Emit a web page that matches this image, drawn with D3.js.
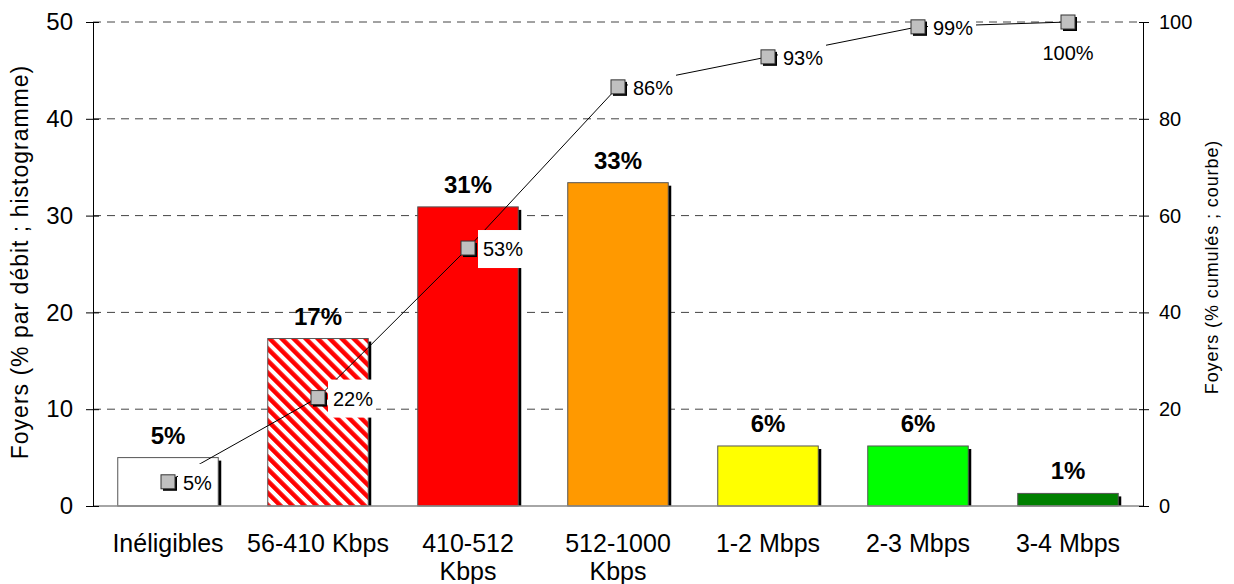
<!DOCTYPE html>
<html>
<head>
<meta charset="utf-8">
<script src="https://cdn.jsdelivr.net/npm/d3@7"></script>
<style>
  body { margin: 0; background: #fff; }
  text { font-family: "Liberation Sans", Arial, sans-serif; }
</style>
</head>
<body>
<svg id="chart" width="1234" height="584"></svg>
<script>
// data
var categories = ["Inéligibles", "56-410 Kbps", "410-512 Kbps", "512-1000 Kbps", "1-2 Mbps", "2-3 Mbps", "3-4 Mbps"];
var tickLines = [["Inéligibles"], ["56-410 Kbps"], ["410-512", "Kbps"], ["512-1000", "Kbps"], ["1-2 Mbps"], ["2-3 Mbps"], ["3-4 Mbps"]];
var shares = [5.0, 17.3, 30.9, 33.4, 6.2, 6.2, 1.3];
var shareLabels = ["5%", "17%", "31%", "33%", "6%", "6%", "1%"];
var cumul = [5, 22.4, 53.3, 86.6, 92.8, 99, 100];
var cumulLabels = ["5%", "22%", "53%", "86%", "93%", "99%", "100%"];
var barColors = ["#ffffff", "url(#hatch)", "#ff0000", "#ff9900", "#ffff00", "#00ff00", "#008000"];
var leftTicks = [0, 10, 20, 30, 40, 50];
var rightTicks = [0, 20, 40, 60, 80, 100];

var svg = d3.select("#chart");
var plotLeft = 93, plotRight = 1143, plotTop = 22, plotBottom = 506;

// hatch for the 56-410 bar
var pat = svg.append("defs").append("pattern")
    .attr("id", "hatch")
    .attr("patternUnits", "userSpaceOnUse")
    .attr("width", 8.5).attr("height", 8.5)
    .attr("patternTransform", "rotate(-45)");
pat.append("rect").attr("width", 8.5).attr("height", 8.5).attr("fill", "#fff");
pat.append("rect").attr("width", 4.5).attr("height", 8.5).attr("fill", "#ff0000");

var x = d3.scaleBand().domain(categories).range([plotLeft, plotRight]).paddingInner(0.33).paddingOuter(0.165);
var y = d3.scaleLinear().domain([0, 50]).range([plotBottom, plotTop]);
var y2 = d3.scaleLinear().domain([0, 100]).range([plotBottom, plotTop]);

// grid
svg.append("g").selectAll("line")
    .data(leftTicks.filter(function(d) { return d > 0; }))
    .join("line")
    .attr("x1", plotLeft).attr("x2", plotRight)
    .attr("y1", function(d) { return y(d); }).attr("y2", function(d) { return y(d); })
    .attr("stroke", "#444").attr("stroke-width", 1)
    .attr("stroke-dasharray", "8,6");

// bar shadows then bars
svg.append("g").selectAll("rect")
    .data(shares)
    .join("rect")
    .attr("x", function(d, i) { return x(categories[i]) + 3; })
    .attr("y", function(d) { return y(d) + 3; })
    .attr("width", x.bandwidth())
    .attr("height", function(d) { return plotBottom - y(d) - 3; })
    .attr("fill", "#000");

svg.append("g").selectAll("rect")
    .data(shares)
    .join("rect")
    .attr("x", function(d, i) { return x(categories[i]); })
    .attr("y", function(d) { return y(d); })
    .attr("width", x.bandwidth())
    .attr("height", function(d) { return plotBottom - y(d); })
    .attr("fill", function(d, i) { return barColors[i]; })
    .attr("stroke", "#555").attr("stroke-width", 1);

// bar value labels
svg.append("g").selectAll("text")
    .data(shares)
    .join("text")
    .attr("x", function(d, i) { return x(categories[i]) + x.bandwidth() / 2; })
    .attr("y", function(d) { return y(d) - 14; })
    .attr("text-anchor", "middle")
    .attr("font-size", 24).attr("font-weight", "bold")
    .text(function(d, i) { return shareLabels[i]; });

// bottom axis line
svg.append("line")
    .attr("x1", plotLeft).attr("x2", plotRight).attr("y1", plotBottom).attr("y2", plotBottom)
    .attr("stroke", "#888").attr("stroke-width", 1.5);

// left axis
var yAxis = svg.append("g").attr("transform", "translate(" + plotLeft + ",0)")
    .call(d3.axisLeft(y).tickValues(leftTicks).tickSize(0).tickPadding(20));
yAxis.select(".domain").attr("stroke", "#000");
yAxis.selectAll("text").attr("font-size", 24).attr("fill", "#000")
    .style("font-family", "Liberation Sans, Arial, sans-serif");
yAxis.selectAll(".tick").append("line").attr("x1", -7).attr("x2", 6).attr("stroke", "#000");

// right axis
var y2Axis = svg.append("g").attr("transform", "translate(" + plotRight + ",0)")
    .call(d3.axisRight(y2).tickValues(rightTicks).tickSize(0).tickPadding(16));
y2Axis.select(".domain").attr("stroke", "#000");
y2Axis.selectAll("text").attr("font-size", 20).attr("fill", "#000")
    .style("font-family", "Liberation Sans, Arial, sans-serif");
y2Axis.selectAll(".tick").append("line").attr("x1", -4).attr("x2", 6).attr("stroke", "#000");

// category labels
var cat = svg.append("g").selectAll("text")
    .data(tickLines)
    .join("text")
    .attr("x", function(d, i) { return x(categories[i]) + x.bandwidth() / 2; })
    .attr("y", 552)
    .attr("text-anchor", "middle")
    .attr("font-size", 25);
cat.selectAll("tspan")
    .data(function(d) { return d; })
    .join("tspan")
    .attr("x", function() { return this.parentNode.getAttribute("x"); })
    .attr("dy", function(d, j) { return j === 0 ? 0 : 28; })
    .text(function(d) { return d; });

// axis titles
svg.append("text")
    .attr("transform", "translate(28,262) rotate(-90)")
    .attr("text-anchor", "middle").attr("font-size", 23)
    .attr("letter-spacing", 1)
    .text("Foyers (% par débit ; histogramme)");
svg.append("text")
    .attr("transform", "translate(1218,267) rotate(-90)")
    .attr("text-anchor", "middle").attr("font-size", 18)
    .attr("letter-spacing", 0.9)
    .text("Foyers (% cumulés ; courbe)");

// cumulative curve
var cx = function(i) { return x(categories[i]) + x.bandwidth() / 2; };
var line = d3.line().x(function(d, i) { return cx(i); }).y(function(d) { return y2(d); });
svg.append("path").datum(cumul)
    .attr("d", line).attr("fill", "none").attr("stroke", "#000").attr("stroke-width", 1);

// point labels with white boxes (last one sits below its point)
var lab = svg.append("g").selectAll("g")
    .data(cumul)
    .join("g")
    .attr("transform", function(d, i) { return "translate(" + cx(i) + "," + y2(d) + ")"; });
var box = lab.append("rect").attr("fill", "#fff");
var labText = lab.append("text")
    .attr("x", function(d, i) { return i === 6 ? 0 : 15; })
    .attr("y", function(d, i) { return i === 6 ? 38 : 8; })
    .attr("text-anchor", function(d, i) { return i === 6 ? "middle" : "start"; })
    .attr("font-size", 20)
    .text(function(d, i) { return cumulLabels[i]; });
box.each(function(d, i) {
    var w = labText.nodes()[i].getComputedTextLength();
    if (i === 6) {
        d3.select(this).attr("x", -w / 2 - 4).attr("y", 18).attr("width", w + 8).attr("height", 28);
    } else {
        d3.select(this).attr("x", 10).attr("y", -18).attr("width", w + 8).attr("height", 38);
    }
});

// markers
lab.append("rect")
    .attr("x", -5).attr("y", -5).attr("width", 14).attr("height", 14)
    .attr("fill", "#000");
lab.append("rect")
    .attr("x", -7).attr("y", -7).attr("width", 14).attr("height", 14)
    .attr("fill", "#c0c0c0").attr("stroke", "#333").attr("stroke-width", 1);
</script>
</body>
</html>
